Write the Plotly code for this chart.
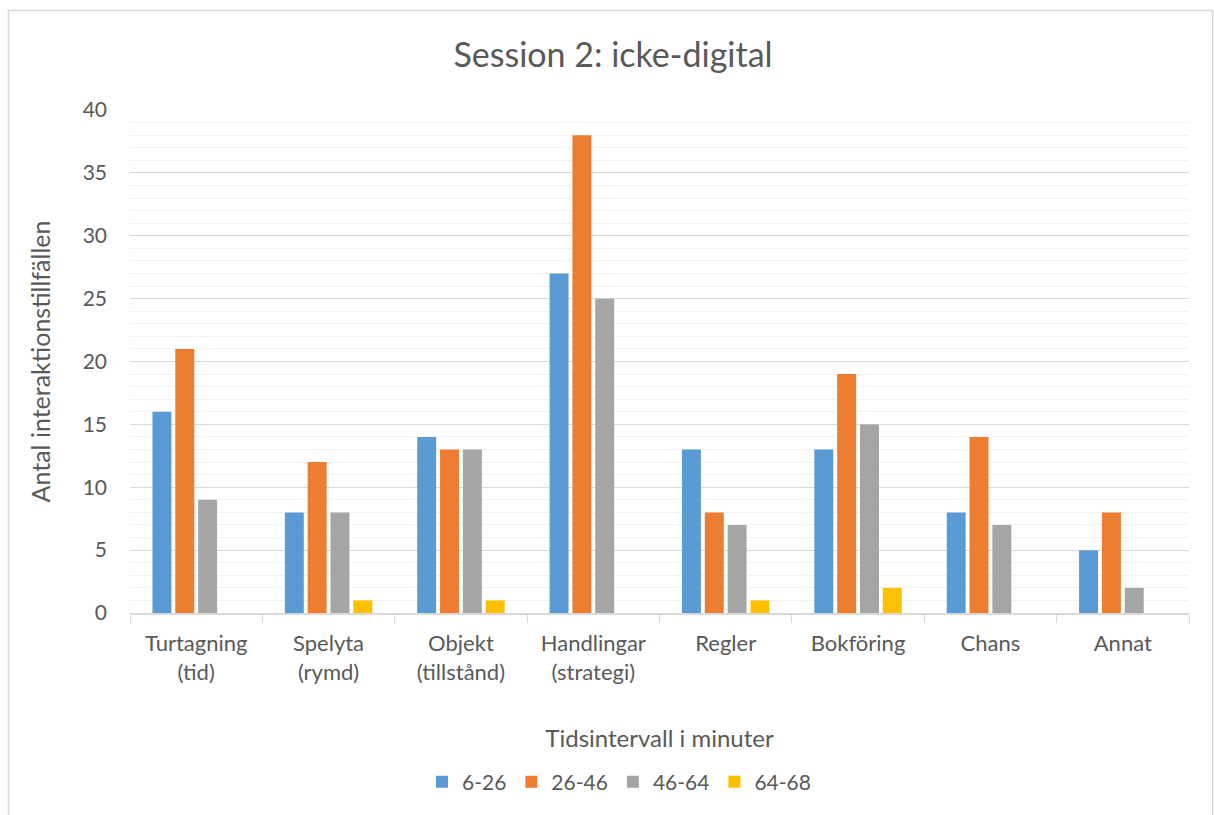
import plotly.graph_objects as go

categories = ["Turtagning<br>(tid)", "Spelyta<br>(rymd)", "Objekt<br>(tillstånd)", "Handlingar<br>(strategi)",
              "Regler", "Bokföring", "Chans", "Annat"]
series_names = ["6-26", "26-46", "46-64", "64-68"]
s_6_26 = [16, 8, 14, 27, 13, 13, 8, 5]
s_26_46 = [21, 12, 13, 38, 8, 19, 14, 8]
s_46_64 = [9, 8, 13, 25, 7, 15, 7, 2]
s_64_68 = [0, 1, 1, 0, 1, 2, 0, 0]
colors = ["#5B9BD5", "#ED7D31", "#A5A5A5", "#FFC000"]

W, H = 1214, 815
L, R, T, B = 130, W - 1189, 110, H - 613
FONT = "Lato"
TXT = "#595959"

fig = go.Figure()
for name, vals, c in zip(series_names, [s_6_26, s_26_46, s_46_64, s_64_68], colors):
    fig.add_trace(go.Bar(x=categories, y=vals, name=name, marker=dict(color=c, line=dict(width=0))))

pw, ph = W - L - R, H - T - B
def px2x(p):
    return (p - L) / pw
def px2y(p):
    return (H - B - p) / ph

fig.update_layout(
    width=W, height=H,
    margin=dict(l=L, r=R, t=T, b=B, autoexpand=False),
    paper_bgcolor="white", plot_bgcolor="white",
    font=dict(family=FONT, color=TXT, size=21),
    title=dict(text="Session 2: icke-digital", x=613 / W, xref="container", xanchor="center",
               y=1 - 55 / H, yanchor="middle", font=dict(size=34, color=TXT, family=FONT)),
    barmode="group", bargap=0.31, bargroupgap=0.17,
    showlegend=True,
    legend=dict(orientation="h", x=px2x(619), xanchor="center", xref="paper", y=px2y(782), yanchor="middle",
                font=dict(size=21, color=TXT), itemwidth=30, traceorder="normal"),
    xaxis=dict(showgrid=False, showline=True, linecolor="#D9D9D9", linewidth=1.5,
               ticks="outside", tickson="boundaries", ticklen=8, tickcolor="#D9D9D9",
               ticklabelstandoff=10, tickangle=0,
               tickfont=dict(size=22, color=TXT),
               title=dict(text="Tidsintervall i minuter", font=dict(size=24, color=TXT), standoff=46)),
    yaxis=dict(range=[0, 40], dtick=5, showgrid=True, gridcolor="#D9D9D9", gridwidth=1.3,
               minor=dict(dtick=1, showgrid=True, gridcolor="#F2F2F2", gridwidth=1.3),
               zeroline=False, showline=False, ticks="", ticklabelstandoff=22,
               tickfont=dict(size=21, color=TXT),
               title=dict(text="Antal interaktionstillfällen", font=dict(size=25, color=TXT), standoff=24)),
)

fig.add_shape(type="rect", xref="paper", yref="paper",
              x0=px2x(8.5), x1=px2x(1212.5), y0=px2y(830), y1=px2y(10.5),
              line=dict(color="#D9D9D9", width=1.5), fillcolor="rgba(0,0,0,0)", layer="below")

fig.write_html("out.html")
